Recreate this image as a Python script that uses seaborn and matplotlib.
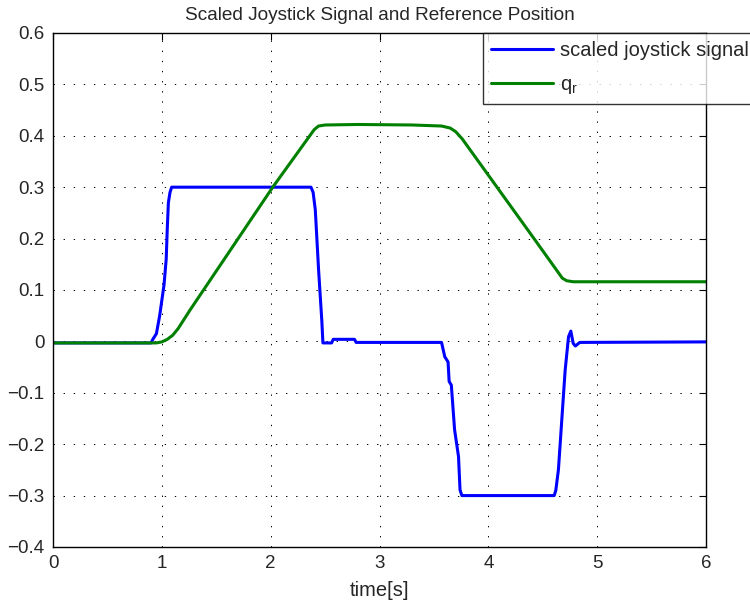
import pandas as pd
import matplotlib
matplotlib.use("Agg")
import matplotlib.pyplot as plt
import seaborn as sns

# joystick signal
t_joy = [0.0, 0.9, 0.92, 0.95, 0.98, 1.0, 1.02, 1.04, 1.05, 1.06, 1.075, 1.09,
         2.37, 2.39, 2.41, 2.44, 2.47, 2.48, 2.56, 2.575, 2.77, 2.785,
         3.57, 3.60, 3.63, 3.64, 3.66, 3.69, 3.726, 3.74, 3.757,
         4.605, 4.62, 4.644, 4.675, 4.706, 4.737, 4.758, 4.78, 4.80, 4.84, 6.0]
joy = [-0.003, -0.003, 0.005, 0.015, 0.05, 0.08, 0.11, 0.16, 0.22, 0.27, 0.29, 0.3,
       0.3, 0.29, 0.256, 0.14, 0.04, -0.003, -0.003, 0.004, 0.004, -0.002,
       -0.002, -0.03, -0.04, -0.078, -0.085, -0.172, -0.224, -0.289, -0.3,
       -0.3, -0.29, -0.25, -0.153, -0.056, 0.009, 0.02, -0.004, -0.009, -0.002, -0.001]

# reference position q_r
t_ref = [0.0, 0.95, 1.0, 1.05, 1.1, 1.15, 1.259, 2.019, 2.40, 2.44, 2.5, 2.8,
         3.3, 3.57, 3.65, 3.70, 3.76, 4.43, 4.68, 4.72, 4.78, 6.0]
q_r = [-0.003, -0.003, -0.001, 0.004, 0.012, 0.025, 0.061, 0.300, 0.412, 0.419, 0.421, 0.422,
       0.421, 0.419, 0.415, 0.408, 0.394, 0.197, 0.123, 0.118, 0.116, 0.116]

x_ticks = [0, 1, 2, 3, 4, 5, 6]
y_ticks = [-0.4, -0.3, -0.2, -0.1, 0, 0.1, 0.2, 0.3, 0.4, 0.5, 0.6]
y_labels = ["\u22120.4", "\u22120.3", "\u22120.2", "\u22120.1", "0",
            "0.1", "0.2", "0.3", "0.4", "0.5", "0.6"]

df_joy = pd.DataFrame({"t": t_joy, "v": joy})
df_ref = pd.DataFrame({"t": t_ref, "v": q_r})

sns.set_style("white")
plt.rcParams["font.family"] = ["Liberation Sans", "DejaVu Sans"]

fig = plt.figure(figsize=(7.5, 6.03), dpi=100)
ax = fig.add_axes([0.0707, 0.0929, 0.8706, 0.8524])

sns.lineplot(data=df_joy, x="t", y="v", color="#0000ff", lw=2.2, ax=ax,
             label="scaled joystick signal")
sns.lineplot(data=df_ref, x="t", y="v", color="#008000", lw=2.2, ax=ax,
             label="q$_\\mathregular{r}$")

ax.set_xlim(0, 6)
ax.set_ylim(-0.4, 0.6)
ax.set_xticks(x_ticks)
ax.set_xticklabels([str(v) for v in x_ticks])
ax.set_yticks(y_ticks)
ax.set_yticklabels(y_labels)
ax.tick_params(direction="in", top=True, right=True, length=5, width=0.8,
               labelsize=13.5, color="black", pad=6)
ax.grid(True, color="black", lw=0.7, linestyle=(0, (1.4, 9)))
for s in ax.spines.values():
    s.set_color("black")
    s.set_linewidth(1.0)

ax.set_title("Scaled Joystick Signal and Reference Position", fontsize=13.7, pad=9.5)
ax.set_xlabel("time[s]", fontsize=14.5, labelpad=6.5)
ax.set_ylabel("")

leg = ax.legend(loc="upper left", bbox_to_anchor=(0.658, 1.0), fontsize=14.5,
                frameon=True, fancybox=False, handlelength=3.1, handletextpad=0.35,
                borderaxespad=0, borderpad=0.4, labelspacing=0.75)
leg.get_frame().set_edgecolor("black")
leg.get_frame().set_linewidth(1.0)

fig.savefig("out.png", dpi=100)
